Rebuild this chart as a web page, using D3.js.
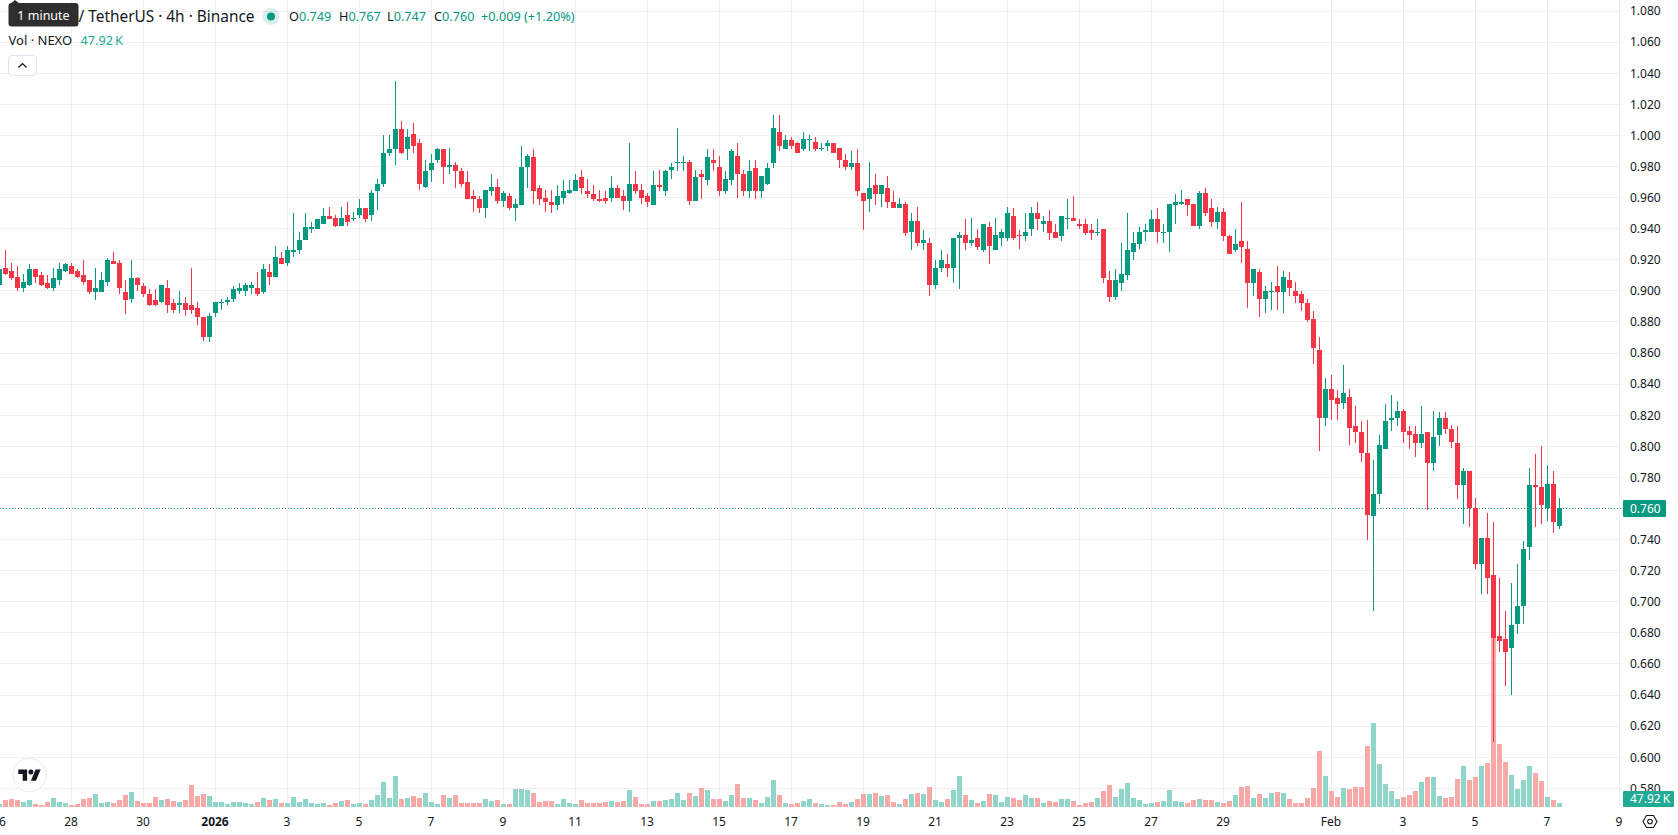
<!DOCTYPE html>
<html>
<head>
<meta charset="utf-8">
<title>NEXO / TetherUS 4h</title>
<script src="https://cdn.jsdelivr.net/npm/d3@7/dist/d3.min.js"></script>
<style>
  html, body { margin: 0; padding: 0; background: #fff; overflow: hidden; }
  svg { display: block; }
  text { font-family: "Noto Sans", sans-serif; }
</style>
</head>
<body>
<div id="chart"></div>
<script>
// Four-hour NEXO/USDT bars, oldest first, starting 2025-12-26 00:00 UTC.
const seriesStart = "2025-12-26";
const barHours = 4;

const opens = [
  .904,.915,.913,.909,.902,.904,.914,.910,.905,.902,
  .907,.913,.916,.913,.910,.907,.899,.899,.906,.919,
  .918,.899,.895,.908,.903,.898,.894,.893,.902,.892,
  .891,.892,.891,.889,.883,.870,.886,.892,.893,.895,
  .900,.900,.902,.902,.899,.912,.909,.921,.918,.925,
  .926,.933,.940,.940,.943,.948,.947,.942,.949,.946,
  .949,.953,.949,.964,.969,.989,.991,1.004,.991,1.001,
  .995,.967,.978,.984,.991,.980,.981,.977,.970,.961,
  .959,.953,.964,.967,.958,.961,.953,.955,.980,.986,
  .966,.960,.957,.955,.960,.963,.964,.973,.964,.962,
  .959,.960,.960,.966,.961,.958,.969,.965,.961,.955,
  .968,.964,.978,.982,.982,.983,.958,.975,.971,.984,
  .980,.964,.971,.987,.975,.964,.979,.964,.969,.982,
  1.002,.991,.997,.995,.991,.997,.996,.991,.993,.995,
  .992,.984,.980,.982,.963,.959,.968,.962,.966,.957,
  .953,.956,.938,.945,.931,.931,.904,.915,.917,.915,
  .934,.936,.931,.934,.926,.941,.926,.934,.934,.948,
  .936,.935,.940,.950,.943,.945,.938,.935,.946,.947,
  .943,.943,.939,.937,.940,.907,.896,.905,.910,.925,
  .930,.938,.938,.946,.937,.938,.955,.956,.959,.956,
  .942,.963,.953,.944,.951,.935,.926,.932,.927,.905,
  .912,.895,.899,.903,.899,.907,.900,.898,.892,.882,
  .862,.818,.837,.831,.828,.832,.813,.809,.796,.755,
  .769,.798,.817,.818,.823,.810,.808,.802,.809,.789,
  .807,.818,.811,.802,.775,.784,.760,.724,.741,.717,
  .678,.676,.670,.686,.697,.735,.775,.774,.760,.776,
  .749
];

const highs = [
  .915,.926,.918,.916,.911,.917,.914,.912,.910,.915,
  .918,.918,.918,.914,.920,.907,.915,.912,.921,.925,
  .920,.907,.920,.909,.905,.901,.901,.904,.907,.895,
  .900,.896,.915,.893,.883,.886,.893,.895,.896,.903,
  .905,.905,.906,.912,.917,.917,.929,.925,.929,.950,
  .938,.950,.944,.946,.953,.954,.949,.954,.957,.951,
  .959,.953,.965,.972,1.000,1.000,1.035,1.009,1.004,1.008,
  .998,.984,.988,.992,.991,.992,.983,.979,.977,.965,
  .961,.965,.975,.972,.964,.963,.959,.993,.988,.991,
  .968,.965,.965,.968,.971,.971,.975,.978,.972,.968,
  .965,.964,.974,.968,.965,.995,.977,.969,.963,.977,
  .978,.978,.982,1.005,.987,.984,.978,.978,.991,.991,
  .987,.977,.991,.995,.978,.984,.984,.974,.982,1.013,
  1.013,1.000,.999,.996,1.002,1.000,.999,.995,.997,.995,
  .992,.988,.990,.991,.963,.983,.975,.968,.974,.964,
  .960,.957,.950,.954,.939,.934,.920,.926,.924,.934,
  .938,.946,.947,.940,.943,.944,.947,.940,.954,.953,
  .939,.950,.954,.957,.948,.952,.943,.948,.959,.961,
  .946,.946,.943,.946,.940,.913,.914,.931,.950,.938,
  .941,.943,.952,.953,.943,.956,.962,.965,.959,.956,
  .964,.966,.959,.954,.953,.936,.940,.957,.932,.914,
  .914,.903,.906,.916,.913,.912,.906,.900,.895,.887,
  .870,.844,.846,.836,.852,.837,.826,.816,.817,.791,
  .807,.827,.833,.829,.824,.813,.813,.826,.809,.823,
  .822,.822,.814,.813,.786,.784,.767,.741,.757,.751,
  .715,.694,.712,.724,.739,.786,.795,.800,.788,.784,
  .767
];

const lows = [
  .904,.910,.907,.900,.899,.903,.905,.903,.901,.900,
  .904,.912,.911,.908,.904,.898,.894,.899,.903,.917,
  .898,.885,.892,.900,.896,.890,.890,.892,.886,.886,
  .886,.884,.885,.878,.868,.867,.883,.888,.891,.893,
  .898,.897,.898,.897,.898,.904,.909,.917,.916,.922,
  .924,.933,.937,.940,.943,.946,.941,.942,.942,.945,
  .947,.944,.945,.952,.967,.987,.981,.988,.984,.989,
  .965,.966,.970,.982,.969,.975,.966,.967,.959,.951,
  .950,.947,.961,.956,.954,.952,.945,.955,.966,.956,
  .955,.951,.950,.952,.956,.962,.964,.962,.960,.958,
  .957,.956,.957,.960,.952,.951,.962,.956,.954,.955,
  .964,.961,.972,.977,.977,.955,.958,.959,.968,.977,
  .961,.962,.968,.960,.961,.960,.959,.960,.968,.979,
  .990,.991,.991,.989,.990,.990,.990,.990,.990,.989,
  .979,.978,.978,.961,.939,.951,.955,.954,.953,.953,
  .953,.935,.926,.929,.926,.897,.901,.912,.909,.905,
  .901,.926,.929,.926,.925,.917,.926,.929,.932,.933,
  .927,.932,.935,.939,.938,.933,.934,.932,.940,.945,
  .940,.936,.933,.935,.905,.893,.894,.900,.907,.920,
  .927,.932,.938,.931,.931,.925,.943,.955,.948,.942,
  .940,.948,.941,.940,.932,.924,.925,.918,.889,.897,
  .883,.886,.888,.888,.886,.897,.892,.887,.880,.853,
  .797,.813,.817,.817,.824,.801,.802,.790,.740,.694,
  .763,.798,.810,.813,.802,.798,.793,.799,.759,.784,
  .800,.808,.799,.766,.750,.748,.721,.705,.705,.610,
  .668,.646,.640,.679,.686,.727,.748,.750,.752,.744,
  .747
];

const closes = [
  .914,.911,.908,.902,.906,.914,.909,.904,.902,.908,
  .914,.917,.911,.909,.906,.899,.902,.907,.920,.917,
  .902,.894,.908,.904,.898,.891,.891,.904,.891,.888,
  .892,.888,.888,.883,.870,.884,.893,.893,.894,.901,
  .902,.904,.904,.898,.914,.909,.922,.917,.926,.926,
  .933,.941,.941,.946,.948,.946,.942,.947,.944,.947,
  .953,.946,.963,.969,.989,.991,1.004,.989,.999,.993,
  .969,.977,.982,.991,.980,.981,.977,.969,.959,.959,
  .953,.965,.967,.958,.963,.953,.956,.980,.987,.964,
  .959,.957,.955,.961,.964,.965,.971,.966,.962,.959,
  .958,.958,.966,.960,.958,.969,.964,.960,.957,.968,
  .967,.977,.980,.983,.983,.958,.973,.973,.986,.982,
  .964,.972,.990,.975,.964,.977,.964,.974,.979,1.005,
  .993,.997,.993,.989,.998,.998,.991,.992,.995,.989,
  .984,.980,.982,.964,.958,.966,.962,.968,.957,.953,
  .956,.937,.945,.931,.933,.904,.915,.920,.915,.934,
  .936,.931,.933,.928,.943,.929,.936,.938,.950,.934,
  .935,.938,.950,.946,.945,.937,.934,.948,.947,.945,
  .942,.937,.937,.938,.908,.896,.907,.911,.926,.931,
  .938,.939,.946,.938,.938,.956,.957,.957,.955,.942,
  .963,.950,.944,.951,.935,.924,.930,.928,.905,.914,
  .895,.900,.900,.899,.909,.902,.897,.892,.881,.863,
  .818,.837,.830,.827,.834,.812,.809,.796,.756,.769,
  .801,.816,.818,.823,.809,.807,.802,.808,.789,.806,
  .818,.811,.803,.775,.784,.760,.724,.741,.715,.677,
  .675,.668,.685,.697,.734,.775,.774,.762,.776,.751,
  .760
];

// Traded volume per bar, in thousands of NEXO.
const volumes = [
  38,88,101,88,63,88,38,25,63,113,
  63,50,25,38,101,113,164,50,63,50,
  88,151,189,76,50,50,126,88,101,76,
  63,88,277,139,164,139,63,63,38,63,
  63,50,38,63,113,88,101,50,50,126,
  63,101,50,38,50,25,50,76,88,38,
  50,38,88,151,315,113,391,101,113,139,
  113,176,63,38,151,113,151,50,50,50,
  50,101,76,88,38,38,227,227,214,176,
  63,76,76,38,101,50,38,88,50,50,
  50,63,76,63,76,214,126,38,38,76,
  76,88,101,176,88,176,139,239,214,101,
  101,76,151,290,113,113,88,50,126,340,
  151,50,38,50,76,101,50,38,25,25,
  63,38,63,101,164,164,176,139,151,63,
  38,101,164,176,164,252,88,63,101,214,
  391,151,88,50,76,164,151,63,126,113,
  88,151,113,113,50,76,63,101,101,76,
  25,50,63,113,202,277,126,227,302,113,
  88,38,50,63,76,214,76,63,50,88,
  101,88,88,63,50,76,151,252,265,113,
  164,113,176,189,176,101,50,50,113,239,
  706,391,202,126,239,227,252,252,769,1054,
  542,290,202,101,126,151,202,315,378,378,
  139,113,126,353,517,340,378,517,554,2130,
  794,567,403,227,340,517,428,328,126,88,
  47.92
];

const priceTicks = [.58,.60,.62,.64,.66,.68,.70,.72,.74,.76,.78,.80,.82,.84,.86,.88,.90,.92,.94,.96,.98,1.00,1.02,1.04,1.06,1.08];
const timeTicks = [
  "2025-12-26","2025-12-28","2025-12-30","2026-01-01","2026-01-03","2026-01-05","2026-01-07","2026-01-09",
  "2026-01-11","2026-01-13","2026-01-15","2026-01-17","2026-01-19","2026-01-21","2026-01-23","2026-01-25",
  "2026-01-27","2026-01-29","2026-02-01","2026-02-03","2026-02-05","2026-02-07","2026-02-09"
];

const width = 1678, height = 835;
const paneRight = 1622, paneBottom = 807;
const bodyWidth = 5, wickWidth = 1;

const UP = "#089981", DOWN = "#f23645";
const VOL_UP = "#90d5c9", VOL_DOWN = "#f7a9a7";
const INK = "#131722";
const fmtPrice = d3.format(".3f");

const bars = opens.map((open, i) => ({
  time: new Date(Date.parse(seriesStart + "T00:00:00Z") + i * barHours * 3600e3),
  open, high: highs[i], low: lows[i], close: closes[i], volume: volumes[i]
}));

const x = d3.scaleUtc()
  .domain([new Date("2025-12-26T00:00:00Z"), new Date("2026-02-09T00:00:00Z")])
  .range([-0.5, 1619.5]);
const y = d3.scaleLinear().domain([.58, 1.08]).range([788.3, 11.05]);
const yVol = d3.scaleLinear().domain([0, 2130]).range([paneBottom, 638]);

const svg = d3.select("#chart").append("svg")
  .attr("width", width).attr("height", height)
  .attr("viewBox", `0 0 ${width} ${height}`);

const tickDates = timeTicks.map(d => new Date(d + "T00:00:00Z"));

// Grid
const grid = svg.append("g").attr("stroke", "#2e2e2e").attr("stroke-opacity", .07).attr("stroke-width", 1);
grid.selectAll(".gy").data(priceTicks).join("line")
  .attr("x1", 0).attr("x2", paneRight)
  .attr("y1", d => Math.floor(y(d)) + .5).attr("y2", d => Math.floor(y(d)) + .5);
grid.selectAll(".gx").data(tickDates).join("line")
  .attr("y1", 0).attr("y2", paneBottom)
  .attr("x1", d => x(d)).attr("x2", d => x(d));

// Last price line
const last = bars[bars.length - 1], prev = bars[bars.length - 2];
svg.append("line")
  .attr("x1", 0).attr("x2", paneRight)
  .attr("y1", Math.floor(y(last.close)) + .5).attr("y2", Math.floor(y(last.close)) + .5)
  .attr("stroke", UP).attr("stroke-width", 1).attr("stroke-dasharray", "1 2");

// Volume columns sit beneath the candles
svg.append("g").selectAll("rect").data(bars).join("rect")
  .attr("x", d => x(d.time) - bodyWidth / 2)
  .attr("width", bodyWidth)
  .attr("y", d => Math.round(yVol(d.volume)))
  .attr("height", d => paneBottom - Math.round(yVol(d.volume)))
  .attr("fill", d => d.close >= d.open ? VOL_UP : VOL_DOWN);

// Candles
const candle = svg.append("g").selectAll("g").data(bars).join("g")
  .attr("fill", d => d.close >= d.open ? UP : DOWN);
candle.append("rect")
  .attr("x", d => x(d.time) - wickWidth / 2)
  .attr("width", wickWidth)
  .attr("y", d => Math.round(y(d.high)))
  .attr("height", d => Math.max(1, Math.round(y(d.low)) - Math.round(y(d.high))));
candle.append("rect")
  .attr("x", d => x(d.time) - bodyWidth / 2)
  .attr("width", bodyWidth)
  .attr("y", d => Math.round(y(Math.max(d.open, d.close))))
  .attr("height", d => Math.max(1, Math.round(y(Math.min(d.open, d.close))) - Math.round(y(Math.max(d.open, d.close)))));

// Price axis
const yAxis = svg.append("g").attr("transform", "translate(1623,0)")
  .call(d3.axisRight(y).tickValues(priceTicks).tickSize(0).tickPadding(7).tickFormat(fmtPrice));
yAxis.select(".domain").remove();
yAxis.selectAll("text").attr("font-size", 12).attr("fill", INK).style("font-family", '"Noto Sans", sans-serif');

// Time axis
const timeLabel = d => {
  const m = d.getUTCMonth(), day = d.getUTCDate();
  if (day === 1 && m === 0) return String(d.getUTCFullYear());
  if (day === 1) return d3.utcFormat("%b")(d);
  return String(day);
};
const xAxis = svg.append("g").attr("transform", "translate(-1,811)")
  .call(d3.axisBottom(x).tickValues(tickDates).tickSize(0).tickPadding(6).tickFormat(timeLabel));
xAxis.select(".domain").remove();
xAxis.selectAll("text").attr("font-size", 12).attr("fill", INK)
  .style("font-family", '"Noto Sans", sans-serif')
  .attr("font-weight", d => d.getUTCDate() === 1 && d.getUTCMonth() === 0 ? 700 : 400);

// Price and volume badges
const badge = (bx, by, w, h, fill, label) => {
  svg.append("rect").attr("x", bx).attr("y", by).attr("width", w).attr("height", h).attr("rx", 1).attr("fill", fill);
  svg.append("text").attr("x", bx + 7).attr("y", by + h / 2).attr("dy", ".35em")
    .attr("font-size", 12).attr("fill", "#fff").text(label);
};
const volumeText = `${last.volume.toFixed(2)}\u2009K`;
badge(1623, 500, 43, 17, UP, fmtPrice(last.close));
badge(1623, 791, 51, 16, "#22ab94", volumeText);

// Legend rows
const legend = svg.append("g");
legend.append("text").attr("x", 78.5).attr("y", 21.5).attr("font-size", 15.4).attr("fill", INK).text("/ TetherUS · 4h · Binance");
legend.append("circle").attr("cx", 271).attr("cy", 16.5).attr("r", 8.5).attr("fill", UP).attr("fill-opacity", .15);
legend.append("circle").attr("cx", 271).attr("cy", 16.5).attr("r", 4).attr("fill", UP);

const change = last.close - prev.close;
const ohlc = [
  ["O", last.open, 289], ["H", last.high, 339], ["L", last.low, 387], ["C", last.close, 434]
];
ohlc.forEach(([k, v, lx]) => {
  const t = legend.append("text").attr("x", lx).attr("y", 21).attr("font-size", 12.7);
  t.append("tspan").attr("fill", INK).text(k);
  t.append("tspan").attr("fill", UP).text(fmtPrice(v));
});
legend.append("text").attr("x", 481).attr("y", 21).attr("font-size", 12.7).attr("fill", UP)
  .text(`${d3.format("+.3f")(change)} (${d3.format("+.2f")(change / prev.close * 100)}%)`);

legend.append("text").attr("x", 8.5).attr("y", 45).attr("font-size", 13).attr("fill", INK).text("Vol · NEXO");
legend.append("text").attr("x", 80.5).attr("y", 45).attr("font-size", 12.7).attr("fill", "#22ab94").text(volumeText);

// Collapse button
legend.append("rect").attr("x", 8.5).attr("y", 55.5).attr("width", 28).attr("height", 20).attr("rx", 3.5)
  .attr("fill", "#fff").attr("stroke", "#e0e3eb");
legend.append("path").attr("d", "M18.5 67.5 L22.5 63.5 L26.5 67.5").attr("fill", "none").attr("stroke", INK).attr("stroke-width", 1.2);

// Tooltip
const tip = svg.append("g");
tip.append("path").attr("d", "M10 4 L15 0 L20 4 Z").attr("fill", "#2e2e2e");
tip.append("rect").attr("x", 8.5).attr("y", 3).attr("width", 70).attr("height", 23.5).attr("rx", 3).attr("fill", "#2e2e2e");
tip.append("text").attr("x", 43.5).attr("y", 19.5).attr("text-anchor", "middle").attr("font-size", 12.5).attr("fill", "#fff").text("1 minute");

// Watermark logo
const mark = svg.append("g").attr("transform", "translate(29.6,775)");
mark.append("circle").attr("r", 16.7).attr("fill", "#fff").attr("stroke", "#e9ebef").attr("stroke-width", 1);
mark.append("g").attr("transform", "translate(-11.3,-8) scale(.63)").attr("fill", "#131722").call(g => {
  g.append("path").attr("d", "M14 22H7V11H0V4h14v18zM28 22h-8l7.5-18h8L28 22z");
  g.append("circle").attr("cx", 20).attr("cy", 8).attr("r", 4);
});

// Chart settings icon
const gear = svg.append("g").attr("transform", "translate(1650,821.5)").attr("fill", "none").attr("stroke", INK).attr("stroke-width", 1.1);
gear.append("path").attr("d", "M-7 0 L-3.5 -6 L3.5 -6 L7 0 L3.5 6 L-3.5 6 Z");
gear.append("circle").attr("r", 2.3);
</script>
</body>
</html>
